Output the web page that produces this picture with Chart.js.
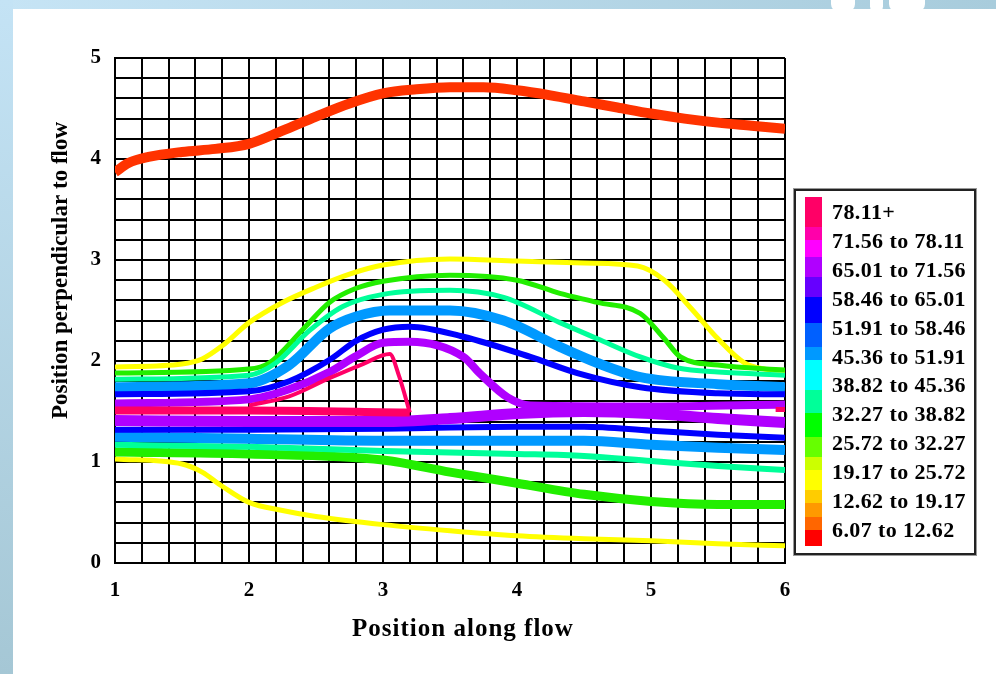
<!DOCTYPE html>
<html>
<head>
<meta charset="utf-8">
<script src="https://cdn.jsdelivr.net/npm/chart.js@4.4.0/dist/chart.umd.min.js"></script>
<style>
body{margin:0;width:996px;height:674px;overflow:hidden;background:#fff;position:relative;font-family:"Liberation Serif","Times New Roman",serif;}
#topStrip{position:absolute;left:0;top:0;width:996px;height:9px;background:linear-gradient(to right,#c6e4f5,#a8ccdc);}
#leftStrip{position:absolute;left:0;top:0;width:13px;height:674px;background:linear-gradient(to bottom,#c4e3f5,#a5c7d5);}
.blob{position:absolute;top:0;height:13px;background:#fff;border-radius:0 0 9px 9px;}
#chartWrap{position:absolute;left:0;top:0;width:996px;height:674px;}
#legend{position:absolute;left:794px;top:189px;width:178px;height:362px;border:2px solid #222;box-shadow:0 0 0 1px #999;background:#fff;}
#bar{position:absolute;left:9px;top:6px;width:17px;height:349px;}
.lab{position:absolute;left:36px;font-weight:bold;font-size:22px;line-height:22px;letter-spacing:0.4px;color:#000;white-space:nowrap;}
</style>
</head>
<body>
<div id="topStrip"></div>
<div id="leftStrip"></div>
<div class="blob" style="left:831px;width:24px"></div>
<div class="blob" style="left:870px;width:13px"></div>
<div class="blob" style="left:889px;width:36px"></div>
<div id="chartWrap"><canvas id="flowChart" width="996" height="674"></canvas></div>
<div id="legend"><div id="bar"></div></div>
<script>
// streamlines, [position along flow, position perpendicular to flow]
const redTop = [[1,3.87],[1.1,3.96],[1.25,4.02],[1.5,4.07],[1.75,4.10],[2,4.15],[2.25,4.28],[2.5,4.42],[2.75,4.55],[3,4.65],[3.25,4.69],[3.5,4.71],[3.75,4.71],[4,4.68],[4.25,4.63],[4.5,4.57],[4.75,4.51],[5,4.45],[5.25,4.40],[5.5,4.36],[5.75,4.33],[6,4.30]];
const yellowUp = [[1,1.94],[1.5,1.97],[1.65,2.02],[1.8,2.15],[2,2.38],[2.25,2.58],[2.5,2.73],[2.75,2.86],[3,2.95],[3.5,3.01],[4,2.99],[4.5,2.97],[4.9,2.94],[5.1,2.80],[5.3,2.52],[5.5,2.22],[5.7,1.98],[5.85,1.92],[6,1.90]];
const greenUp = [[1,1.88],[2,1.92],[2.15,1.98],[2.4,2.31],[2.6,2.58],[2.8,2.72],[3,2.79],[3.5,2.85],[4,2.80],[4.32,2.67],[4.6,2.58],[4.92,2.47],[5.1,2.22],[5.22,2.04],[5.5,1.96],[6,1.91]];
const tealUp = [[1,1.82],[2,1.86],[2.2,1.98],[2.45,2.30],[2.7,2.54],[3,2.66],[3.5,2.70],[3.9,2.63],[4.32,2.38],[4.6,2.22],[4.92,2.04],[5.2,1.93],[5.5,1.89],[6,1.86]];
const lightBlueUp = [[1,1.74],[2,1.78],[2.3,1.96],[2.6,2.32],[2.8,2.44],[3.05,2.50],[3.5,2.50],[3.9,2.40],[4.32,2.14],[4.6,1.98],[4.92,1.84],[5.5,1.77],[6,1.74]];
const blueUp = [[1,1.67],[2,1.70],[2.3,1.80],[2.6,2.01],[2.8,2.20],[3,2.31],[3.2,2.34],[3.6,2.24],[4.1,2.04],[4.45,1.88],[4.92,1.74],[5.5,1.68],[6,1.67]];
const purpleUp = [[1,1.58],[2,1.62],[2.3,1.72],[2.6,1.89],[2.8,2.05],[3,2.18],[3.2,2.19],[3.6,2.04],[3.72,1.88],[3.93,1.64],[4.1,1.56],[5,1.55],[6,1.57]];
const pinkUp = [[2,1.56],[2.3,1.65],[2.6,1.83],[2.85,1.97],[3.05,2.07],[3.12,1.85],[3.2,1.49]];
const pinkLow = [[1,1.51],[2,1.51],[3.2,1.49]];
const pinkEnd = [[5.93,1.52],[6,1.52]];
const purpleMid = [[1,1.41],[2,1.40],[3,1.40],[3.5,1.43],[4,1.48],[4.5,1.50],[5,1.48],[5.5,1.43],[6,1.39]];
const blueLow = [[1,1.32],[2,1.32],[3,1.33],[4,1.35],[4.5,1.35],[5,1.31],[5.5,1.27],[6,1.24]];
const lightBlueLow = [[1,1.25],[2,1.23],[3,1.21],[4,1.21],[4.5,1.21],[5,1.17],[5.5,1.14],[6,1.12]];
const tealLow = [[1,1.17],[2,1.15],[3,1.11],[4,1.08],[4.5,1.06],[5,1.01],[5.5,0.96],[6,0.92]];
const greenLow = [[1,1.10],[2,1.08],[3,1.02],[3.5,0.90],[4,0.79],[4.5,0.68],[5,0.61],[5.5,0.58],[6,0.58]];
const yellowLow = [[1,1.03],[1.5,0.98],[1.65,0.90],[1.8,0.76],[2,0.60],[2.25,0.52],[2.5,0.46],[3,0.38],[3.5,0.32],[4,0.27],[4.5,0.24],[5,0.22],[5.5,0.19],[6,0.17]];

const legendLabels = ["78.11+","71.56 to 78.11","65.01 to 71.56","58.46 to 65.01","51.91 to 58.46","45.36 to 51.91","38.82 to 45.36","32.27 to 38.82","25.72 to 32.27","19.17 to 25.72","12.62 to 19.17","6.07 to 12.62"];
const barColors = ["#ff0066","#ff00aa","#ff00ff","#b000ff","#6600ff","#0000ff","#0060ff","#0099ff","#00ffff","#00ff99","#00ff00","#66ff00","#ccff00","#ffff00","#ffcc00","#ff9900","#ff6600","#ff0000"];
const barStops = [0,30,43,60,80,100,126,150,163,193,216,240,260,273,293,306,320,333,349];

const lines = [
    { name: "pinkUp", data: pinkUp, color: "#ff0066", width: 4 },
    { name: "pinkLow", data: pinkLow, color: "#ff0066", width: 8 },
    { name: "pinkEnd", data: pinkEnd, color: "#ff0066", width: 5 },
    { name: "purpleUp", data: purpleUp, color: "#b000ff", width: 8 },
    { name: "purpleMid", data: purpleMid, color: "#b000ff", width: 11 },
    { name: "blueUp", data: blueUp, color: "#0000ff", width: 6 },
    { name: "blueLow", data: blueLow, color: "#0000ff", width: 6 },
    { name: "lightBlueUp", data: lightBlueUp, color: "#0099ff", width: 10 },
    { name: "lightBlueLow", data: lightBlueLow, color: "#0099ff", width: 10 },
    { name: "tealUp", data: tealUp, color: "#00ff99", width: 5 },
    { name: "tealLow", data: tealLow, color: "#00ff99", width: 6 },
    { name: "greenUp", data: greenUp, color: "#22ee00", width: 5 },
    { name: "greenLow", data: greenLow, color: "#22ee00", width: 9 },
    { name: "yellowUp", data: yellowUp, color: "#ffff00", width: 5 },
    { name: "yellowLow", data: yellowLow, color: "#ffff00", width: 5 },
    { name: "redTop", data: redTop, color: "#ff3300", width: 10 },
];

// legend box
let grad = [];
barColors.forEach((c, i) => {
    grad.push(c + " " + barStops[i] + "px", c + " " + barStops[i + 1] + "px");
});
document.getElementById("bar").style.background = "linear-gradient(to bottom," + grad.join(",") + ")";
const legendDiv = document.getElementById("legend");
legendLabels.forEach((txt, i) => {
    const lab = document.createElement("div");
    lab.className = "lab";
    lab.style.top = (10 + i * 28.9) + "px";
    lab.innerText = txt;
    legendDiv.appendChild(lab);
});

const serif = "'Liberation Serif','Times New Roman',serif";
const isWhole = (v) => Math.abs(v - Math.round(v)) < 1e-6;

const axisTitles = {
    id: "axisTitles",
    afterDraw(chart) {
        const ctx = chart.ctx;
        const a = chart.chartArea;
        ctx.save();
        ctx.fillStyle = "#000";
        ctx.textAlign = "center";
        ctx.textBaseline = "middle";
        ctx.font = "bold 25px " + serif;
        ctx.letterSpacing = "1px";
        ctx.fillText("Position along flow", (a.left + a.right) / 2 + 13, a.bottom + 67);
        ctx.letterSpacing = "0px";
        ctx.font = "bold 23px " + serif;
        ctx.translate(a.left - 54, (a.top + a.bottom) / 2 - 40);
        ctx.rotate(-Math.PI / 2);
        ctx.fillText("Position perpendicular to flow", 0, 0);
        ctx.restore();
    },
};

const ctx = document.getElementById("flowChart").getContext("2d");
new Chart(ctx, {
    type: "scatter",
    data: {
        datasets: lines.map((l) => ({
            label: l.name,
            data: l.data.map((p) => ({ x: p[0], y: p[1] })),
            showLine: true,
            borderColor: l.color,
            backgroundColor: l.color,
            borderWidth: l.width,
            pointRadius: 0,
            cubicInterpolationMode: "monotone",
            borderCapStyle: "butt",
        })),
    },
    options: {
        responsive: false,
        animation: false,
        layout: { padding: { top: 58, right: 211, bottom: 0, left: 0 } },
        plugins: { legend: { display: false }, tooltip: { enabled: false } },
        scales: {
            x: {
                type: "linear",
                min: 1,
                max: 6,
                afterFit: (s) => { s.height = 111; },
                ticks: {
                    stepSize: 0.2,
                    autoSkip: false,
                    maxRotation: 0,
                    padding: 15,
                    color: "#000",
                    font: { family: serif, size: 21, weight: "bold" },
                    callback: (v) => (isWhole(v) ? Math.round(v) : ""),
                },
                grid: { color: "#000", lineWidth: 2, drawTicks: false },
                border: { color: "#000", width: 2 },
            },
            y: {
                type: "linear",
                min: 0,
                max: 5,
                afterFit: (s) => { s.width = 115; },
                ticks: {
                    stepSize: 0.2,
                    autoSkip: false,
                    padding: 14,
                    color: "#000",
                    font: { family: serif, size: 21, weight: "bold" },
                    callback: (v) => (isWhole(v) ? Math.round(v) : ""),
                },
                grid: { color: "#000", lineWidth: 2, drawTicks: false },
                border: { color: "#000", width: 2 },
            },
        },
    },
    plugins: [axisTitles],
});
</script>
</body>
</html>
